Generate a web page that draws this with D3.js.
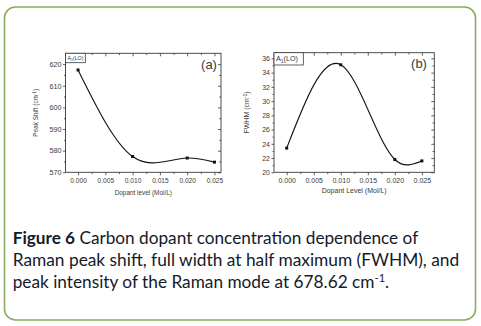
<!DOCTYPE html>
<html><head><meta charset="utf-8">
<script src="https://cdn.jsdelivr.net/npm/d3@7"></script>
<style>body{margin:0;background:#fff} svg{display:block}</style>
</head><body><svg id="fig" width="481" height="326"></svg>
<script>
// Dopant concentration (Mol/L) and measured Raman quantities
const dopant = [0, 0.010, 0.020, 0.025];
const peakShift = [617.3, 577.3, 576.6, 574.7];
const fwhm = [23.4, 35.1, 21.8, 21.6];

// Tick values
const xTicks = [0, 0.005, 0.010, 0.015, 0.020, 0.025];
const xMinor = [0.0025, 0.0075, 0.0125, 0.0175, 0.0225];
const peakTicks = [570, 580, 590, 600, 610, 620];
const peakMinor = [575, 585, 595, 605, 615];
const fwhmTicks = [20, 22, 24, 26, 28, 30, 32, 34, 36];
const fwhmMinor = [21, 23, 25, 27, 29, 31, 33, 35];

// d3 curve: natural cubic spline of y as a function of x, emitted as Bezier pieces
function curveNaturalX(context) {
  let xs, ys;
  return {
    areaStart() {}, areaEnd() {},
    lineStart() { xs = []; ys = []; },
    point(x, y) { xs.push(+x); ys.push(+y); },
    lineEnd() {
      const n = xs.length;
      if (!n) return;
      context.moveTo(xs[0], ys[0]);
      if (n === 1) return;
      if (n === 2) { context.lineTo(xs[1], ys[1]); return; }
      const h = d3.range(n - 1).map(i => xs[i + 1] - xs[i]);
      // tridiagonal solve for second derivatives, natural ends (M0 = Mn = 0)
      const a = [], b = [], c = [], r = [];
      for (let i = 1; i < n - 1; i++) {
        a.push(h[i - 1]); b.push(2 * (h[i - 1] + h[i])); c.push(h[i]);
        r.push(6 * ((ys[i + 1] - ys[i]) / h[i] - (ys[i] - ys[i - 1]) / h[i - 1]));
      }
      const m = r.length;
      for (let i = 1; i < m; i++) {
        const w = a[i] / b[i - 1];
        b[i] -= w * c[i - 1]; r[i] -= w * r[i - 1];
      }
      const inner = new Array(m);
      inner[m - 1] = r[m - 1] / b[m - 1];
      for (let i = m - 2; i >= 0; i--) inner[i] = (r[i] - c[i] * inner[i + 1]) / b[i];
      const M = [0, ...inner, 0];
      const slope = i => i < n - 1
        ? (ys[i + 1] - ys[i]) / h[i] - h[i] * (2 * M[i] + M[i + 1]) / 6
        : (ys[i] - ys[i - 1]) / h[i - 1] + h[i - 1] * (M[i - 1] + 2 * M[i]) / 6;
      for (let i = 0; i < n - 1; i++) {
        const d = h[i] / 3;
        context.bezierCurveTo(xs[i] + d, ys[i] + slope(i) * d,
          xs[i + 1] - d, ys[i + 1] - slope(i + 1) * d, xs[i + 1], ys[i + 1]);
      }
    }
  };
}

const svg = d3.select("#fig");
const ink = "#3a3a3a";

// Rounded panel border
svg.append("rect")
  .attr("x", 4.5).attr("y", 7).attr("width", 471).attr("height", 313)
  .attr("rx", 11).attr("ry", 11)
  .attr("fill", "#fff").attr("stroke", "#8aac5e").attr("stroke-width", 1.6);

function panel(cfg) {
  const g = svg.append("g");
  const x = d3.scaleLinear().domain(cfg.xDomain).range([cfg.left, cfg.right]);
  const y = d3.scaleLinear().domain(cfg.yDomain).range([cfg.bottom, cfg.top]);
  const font = "Liberation Sans, Arial, sans-serif";

  const styleAxis = sel => {
    sel.select(".domain").remove();
    sel.selectAll("line").attr("stroke", ink).attr("stroke-width", 0.8);
    sel.selectAll("text").attr("fill", ink).attr("font-family", font);
  };

  // bottom axis: labelled major ticks outward, minor ticks outward
  g.append("g").attr("transform", `translate(0,${cfg.bottom})`)
    .call(d3.axisBottom(x).tickValues(xTicks).tickFormat(d3.format(".3f"))
      .tickSizeInner(3).tickSizeOuter(0).tickPadding(3))
    .call(styleAxis)
    .selectAll("text").attr("font-size", cfg.xTickFont);
  g.append("g").attr("transform", `translate(0,${cfg.bottom})`)
    .call(d3.axisBottom(x).tickValues(xMinor).tickFormat("").tickSizeInner(1.8).tickSizeOuter(0))
    .call(styleAxis);
  // top mirror ticks, pointing inward
  g.append("g").attr("transform", `translate(0,${cfg.top})`)
    .call(d3.axisTop(x).tickValues(xTicks).tickFormat("").tickSizeInner(-3).tickSizeOuter(0))
    .call(styleAxis);
  g.append("g").attr("transform", `translate(0,${cfg.top})`)
    .call(d3.axisTop(x).tickValues(xMinor).tickFormat("").tickSizeInner(-1.8).tickSizeOuter(0))
    .call(styleAxis);

  // left axis
  g.append("g").attr("transform", `translate(${cfg.left},0)`)
    .call(d3.axisLeft(y).tickValues(cfg.yTicks).tickFormat(d3.format("d"))
      .tickSizeInner(2.5).tickSizeOuter(0).tickPadding(1.5))
    .call(styleAxis)
    .selectAll("text").attr("font-size", cfg.yTickFont);
  g.append("g").attr("transform", `translate(${cfg.left},0)`)
    .call(d3.axisLeft(y).tickValues(cfg.yMinor).tickFormat("").tickSizeInner(1.5).tickSizeOuter(0))
    .call(styleAxis);
  // right mirror ticks, inward
  g.append("g").attr("transform", `translate(${cfg.right},0)`)
    .call(d3.axisRight(y).tickValues(cfg.yTicks).tickFormat("").tickSizeInner(-3).tickSizeOuter(0))
    .call(styleAxis);
  g.append("g").attr("transform", `translate(${cfg.right},0)`)
    .call(d3.axisRight(y).tickValues(cfg.yMinor).tickFormat("").tickSizeInner(-1.8).tickSizeOuter(0))
    .call(styleAxis);

  // plot frame
  g.append("rect")
    .attr("x", cfg.left).attr("y", cfg.top)
    .attr("width", cfg.right - cfg.left).attr("height", cfg.bottom - cfg.top)
    .attr("fill", "none").attr("stroke", ink).attr("stroke-width", 0.9);

  // spline through the measured points
  const pts = dopant.map((d, i) => [d, cfg.values[i]]);
  g.append("path").datum(pts)
    .attr("fill", "none").attr("stroke", "#111").attr("stroke-width", 1.1)
    .attr("d", d3.line().x(d => x(d[0])).y(d => y(d[1])).curve(curveNaturalX));
  g.selectAll(".pt").data(pts).join("rect")
    .attr("x", d => x(d[0]) - 1.5).attr("y", d => y(d[1]) - 1.5)
    .attr("width", 3).attr("height", 3).attr("fill", "#111");

  // legend box
  g.append("rect")
    .attr("x", cfg.left).attr("y", cfg.top)
    .attr("width", cfg.legW).attr("height", cfg.legH)
    .attr("fill", "#fff").attr("stroke", ink).attr("stroke-width", 0.8);
  const lt = g.append("text")
    .attr("x", cfg.left + 2).attr("y", cfg.top + cfg.legH * 0.68)
    .attr("font-family", font).attr("font-size", cfg.legFont).attr("fill", ink);
  lt.append("tspan").text("A");
  lt.append("tspan").attr("dy", cfg.legFont * 0.25).attr("font-size", cfg.legFont * 0.7).text("1");
  lt.append("tspan").attr("dy", -cfg.legFont * 0.25).text("(LO)");

  // panel letter
  g.append("text")
    .attr("x", cfg.letterX).attr("y", cfg.top + 15.5)
    .attr("font-family", font).attr("font-size", 13).attr("fill", ink)
    .attr("text-anchor", "middle").text(cfg.letter);

  // axis titles
  g.append("text")
    .attr("x", (cfg.left + cfg.right) / 2).attr("y", cfg.bottom + cfg.xTitleDy)
    .attr("font-family", font).attr("font-size", cfg.titleFont).attr("fill", ink)
    .attr("text-anchor", "middle").text(cfg.xTitle);
  const yt = g.append("text")
    .attr("transform", `translate(${cfg.yTitleX},${(cfg.top + cfg.bottom) / 2}) rotate(-90)`)
    .attr("font-family", font).attr("font-size", cfg.titleFont).attr("fill", ink)
    .attr("text-anchor", "middle");
  yt.append("tspan").text(cfg.yTitle + " (cm");
  yt.append("tspan").attr("dy", -cfg.titleFont * 0.35).attr("font-size", cfg.titleFont * 0.7).text("-1");
  yt.append("tspan").attr("dy", cfg.titleFont * 0.35).text(")");
}

panel({
  left: 65.5, right: 221, top: 53.3, bottom: 172.3,
  xDomain: [-0.0023, 0.0262], yDomain: [570, 625],
  yTicks: peakTicks, yMinor: peakMinor, values: peakShift,
  xTickFont: 6.6, yTickFont: 7.2, titleFont: 6.4, legFont: 5.2,
  legW: 19.8, legH: 9.4, letter: "(a)", letterX: 209,
  xTitle: "Dopant level (Mol/L)", xTitleDy: 23, yTitle: "Peak Shift", yTitleX: 38
});

panel({
  left: 274, right: 434.3, top: 52.7, bottom: 172.3,
  xDomain: [-0.00235, 0.0273], yDomain: [20, 36.8],
  yTicks: fwhmTicks, yMinor: fwhmMinor, values: fwhm,
  xTickFont: 7, yTickFont: 7, titleFont: 7, legFont: 7.2,
  legW: 29.3, legH: 12.3, letter: "(b)", letterX: 419,
  xTitle: "Dopant Level (Mol/L)", xTitleDy: 21, yTitle: "FWHM", yTitleX: 249
});

// Caption
const capFont = "Lato, 'Open Sans', sans-serif";
const capColor = "#141a2a";
const lines = [
  { y: 243.5, w: 405.5, parts: [["Figure 6", 700], [" Carbon dopant concentration dependence of", 400]] },
  { y: 265.5, w: 446.5, parts: [["Raman peak shift, full width at half maximum (FWHM), and", 400]] },
  { y: 287.7, w: 376.5, parts: [["peak intensity of the Raman mode at 678.62 cm", 400], ["-1", 400, "sup"], [".", 400, "after"]] }
];
lines.forEach(l => {
  const t = svg.append("text")
    .attr("x", 12.7).attr("y", l.y)
    .attr("font-family", capFont).attr("font-size", 17).attr("fill", capColor)
    .attr("textLength", l.w).attr("lengthAdjust", "spacingAndGlyphs");
  l.parts.forEach(p => {
    const s = t.append("tspan").attr("font-weight", p[1]).text(p[0]);
    if (p[2] === "sup") s.attr("dy", -6).attr("font-size", 11);
    if (p[2] === "after") s.attr("dy", 6);
  });
});
</script>
</body></html>
